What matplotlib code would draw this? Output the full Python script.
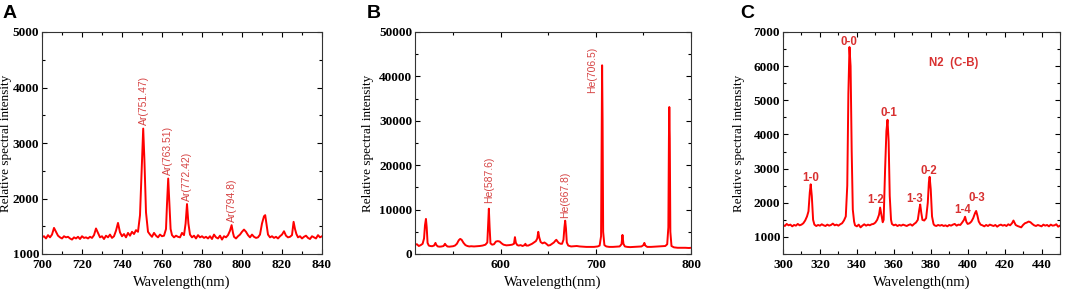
import matplotlib
matplotlib.use("Agg")
import matplotlib.pyplot as plt
from matplotlib.ticker import MultipleLocator

# ---- panel A: Ar lines (wavelength nm, intensity)
wl_a = [700, 701, 702, 703, 704, 705, 706, 707, 708, 709, 710, 711, 712, 713, 714, 715, 716, 717, 718, 719,
        720, 721, 722, 723, 724, 725, 726, 727, 728, 729, 730, 731, 732, 733, 734, 735, 736, 737, 738, 739,
        740, 741, 742, 743, 744, 745, 746, 747, 748, 749, 750, 750.6, 751.2, 752, 753, 754, 755, 756, 757,
        758, 759, 760, 761, 762, 762.5, 763.1, 763.7, 764.3, 765, 766, 767, 768, 769, 770, 771, 771.8,
        772.5, 773.2, 774, 775, 776, 777, 778, 779, 780, 781, 782, 783, 784, 785, 786, 787, 788, 789, 790,
        791, 792, 793, 794, 794.8, 795.5, 796, 797, 798, 799, 800, 801, 802, 803, 804, 805, 806, 807, 808,
        809, 810, 811, 811.6, 812.3, 813, 814, 815, 816, 817, 818, 819, 820, 821, 822, 823, 824, 825, 825.8,
        826.5, 827.2, 828, 829, 830, 831, 832, 833, 834, 835, 836, 837, 838, 839, 840]
in_a = [1300, 1320, 1280, 1340, 1300, 1350, 1470, 1400, 1330, 1300, 1280, 1320, 1300, 1310, 1280, 1260, 1300, 1280, 1310, 1270,
        1320, 1290, 1300, 1280, 1310, 1290, 1340, 1460, 1380, 1300, 1320, 1270, 1330, 1300, 1350, 1290, 1320, 1420, 1560, 1390,
        1320, 1360, 1300, 1380, 1330, 1400, 1360, 1430, 1400, 1700, 2700, 3260, 2700, 1750, 1400, 1350, 1310, 1380, 1330,
        1300, 1350, 1320, 1330, 1450, 1900, 2360, 1900, 1450, 1340, 1300, 1330, 1310, 1300, 1380, 1340, 1550,
        1900, 1550, 1350, 1300, 1330, 1280, 1340, 1300, 1320, 1290, 1310, 1280, 1320, 1270, 1350, 1300, 1280, 1330, 1260,
        1320, 1300, 1340, 1420, 1520, 1380, 1310, 1280, 1320, 1350, 1400, 1440, 1400, 1340, 1300, 1350, 1310, 1290, 1300,
        1350, 1550, 1680, 1700, 1520, 1350, 1300, 1320, 1290, 1310, 1280, 1320, 1350, 1410, 1330, 1300, 1310, 1340, 1580,
        1450, 1360, 1300, 1320, 1280, 1310, 1330, 1290, 1270, 1320, 1300, 1280, 1340, 1300, 1320]
lab_a = ["Ar(751.47)", "Ar(763.51)", "Ar(772.42)", "Ar(794.8)"]
lab_a_x = [750.8, 763.2, 772.6, 794.8]
lab_a_y = [3330, 2420, 1960, 1580]

# ---- panel B: He lines
wl_b = [510, 512, 514, 516, 518, 519.5, 520.5, 521.5, 522.3, 523.2, 524.5, 526, 528, 530, 531.5, 532.5, 534, 536,
        538, 540, 541.5, 542.5, 544, 546, 548, 550, 552, 554, 556, 557.5, 559, 561, 563, 565, 567, 569, 572,
        575, 578, 581, 584, 586, 586.8, 587.6, 588.4, 589.3, 591, 593, 595, 597, 599, 601, 603, 606, 609, 612,
        614, 615, 616, 617.5, 619, 621, 623, 625, 626, 627, 629, 631, 633, 635, 637, 638.5, 639.5, 640.5, 642,
        644, 646, 648, 650, 652, 654, 656, 657.5, 658.5, 659.5, 661, 663, 664.5, 666, 667, 667.8, 668.6, 669.5,
        671, 674, 677, 680, 683, 686, 690, 694, 698, 702, 704, 705.5, 706.2, 706.6, 707.1, 707.7, 709, 711,
        714, 718, 722, 725, 727, 728, 729, 730.5, 733, 736, 740, 744, 748, 750, 751, 752, 754, 758, 762, 766,
        770, 773, 775, 776.2, 776.8, 777.2, 777.7, 778.3, 779.5, 782, 786, 790, 794, 798, 800]
in_b = [2100, 2200, 1800, 2000, 2300, 3500, 6500, 7900, 6000, 2500, 1900, 1800, 1750, 1900, 2500, 2000, 1700, 1650,
        1700, 1800, 2300, 2000, 1700, 1650, 1700, 1750, 1900, 2300, 3100, 3400, 3200, 2500, 2000, 1800, 1700, 1750, 1700,
        1750, 1800, 1900, 2100, 2600, 6500, 10200, 6000, 2400, 2100, 2200, 2800, 2900, 2800, 2400, 2100, 1950, 2000, 2100,
        2300, 3800, 2500, 2000, 1900, 2000, 1800, 2000, 2300, 1900, 1900, 2100, 2300, 2600, 2900, 3500, 5000, 3800, 2700,
        2400, 2600, 2300, 1900, 2000, 2300, 2600, 3000, 3200, 2900, 2500, 2300, 2300, 3200, 6000, 7500, 5800, 2600,
        1900, 1700, 1750, 1800, 1700, 1650, 1600, 1600, 1600, 1700, 1900, 4000, 30000, 42500, 30000, 5000, 2000, 1700,
        1600, 1600, 1650, 1700, 2200, 4300, 2300, 1700, 1600, 1550, 1600, 1650, 1700, 2000, 2500, 1900, 1600, 1600, 1650, 1700,
        1750, 1800, 2200, 6000, 26000, 33100, 26000, 5000, 1800, 1500, 1400, 1400, 1400, 1350, 1400]
lab_b = ["He(587.6)", "He(667.8)", "He(706.5)"]
lab_b_x = [587.6, 668.0, 696.0]
lab_b_y = [11500, 8100, 36300]

# ---- panel C: N2 second positive system
wl_c = [300, 301, 302, 303, 304, 305, 306, 307, 308, 309, 310, 311, 312, 313, 313.8, 314.5, 315, 315.6, 316.3,
        317, 318, 319, 320, 321, 322, 323, 324, 325, 326, 327, 328, 329, 330, 331, 332, 333, 334, 334.8, 335.4,
        336, 336.6, 337.2, 337.8, 338.5, 339, 340, 341, 342, 343, 344, 345, 346, 347, 348, 349, 350, 351, 352,
        352.6, 353.3, 354, 354.5, 355.3, 356, 356.6, 357.2, 357.8, 358.5, 359, 360, 361, 362, 363, 364, 365, 366,
        367, 368, 369, 370, 371, 372, 373, 373.8, 374.3, 374.9, 375.5, 376.5, 377.5, 378.4, 379, 379.4, 380,
        380.7, 381.5, 382, 383, 384, 385, 386, 387, 388, 389, 390, 391, 392, 393, 394, 395, 396, 397, 398, 398.6,
        399.3, 400, 401, 402, 403, 404, 404.6, 405.3, 406, 407, 408, 409, 410, 411, 412, 413, 414, 415, 416, 417,
        418, 419, 420, 421, 422, 423, 424, 424.8, 425.5, 426, 427, 428, 429, 430, 431, 432, 433, 434, 435, 436,
        437, 438, 439, 440, 441, 442, 443, 444, 445, 446, 447, 448, 449, 450]
in_c = [1350, 1320, 1380, 1340, 1360, 1310, 1350, 1330, 1380, 1340, 1360, 1400, 1480, 1600, 1750, 2300, 2540, 2200, 1500,
        1360, 1320, 1350, 1330, 1370, 1340, 1320, 1360, 1330, 1350, 1390, 1340, 1360, 1330, 1370, 1400, 1480, 1600, 2500, 5200,
        6560, 6000, 3500, 1800, 1450, 1340, 1310, 1360, 1280, 1330, 1370, 1330, 1360, 1340, 1370, 1380, 1420, 1500, 1650,
        1860, 1650, 1430, 1500, 3000, 4100, 4430, 3800, 2200, 1500, 1380, 1340, 1360, 1320, 1350, 1330, 1360, 1340,
        1320, 1350, 1370, 1330, 1380, 1420, 1500, 1800, 1950, 1700, 1500, 1480, 1550, 2000, 2600, 2760, 2400,
        1600, 1380, 1340, 1320, 1350, 1330, 1350, 1320, 1340, 1310, 1350, 1330, 1360, 1380, 1330, 1360, 1350, 1420, 1500, 1590,
        1440, 1380, 1400, 1450, 1550, 1700, 1760, 1620, 1450, 1360, 1340, 1310, 1350, 1320, 1360, 1340, 1320, 1350, 1300, 1340,
        1360, 1330, 1350, 1320, 1370, 1340, 1400, 1480, 1400, 1350, 1320, 1300, 1280, 1350, 1400, 1420, 1450, 1430, 1380, 1340,
        1320, 1350, 1330, 1310, 1360, 1330, 1350, 1310, 1360, 1330, 1340, 1370, 1300, 1330]
lab_c = ["1-0", "0-0", "0-1", "1-2", "1-3", "0-2", "1-4", "0-3", "N2  (C-B)"]
lab_c_x = [314.8, 335.9, 357.2, 350.3, 371.1, 379.2, 397.1, 404.9, 392.2]
lab_c_y = [2720, 6715, 4615, 2090, 2120, 2930, 1780, 2150, 6080]

serif = "Liberation Serif"
sans = "Liberation Sans"
line_col = "#ff0000"
lab_col = "#d64545"

fig = plt.figure(figsize=(10.65, 2.95), dpi=100)
W, H = 1065, 295


def make_ax(left, right, top=32, bottom=254):
    return fig.add_axes([left / W, (H - bottom) / H, (right - left) / W, (bottom - top) / H])


def style(ax, xlim, ylim, xmaj, xmin, ymaj, ymin, ylab_x):
    ax.set_xlim(*xlim)
    ax.set_ylim(*ylim)
    ax.xaxis.set_major_locator(MultipleLocator(xmaj))
    ax.xaxis.set_minor_locator(MultipleLocator(xmin))
    ax.yaxis.set_major_locator(MultipleLocator(ymaj))
    ax.yaxis.set_minor_locator(MultipleLocator(ymin))
    ax.tick_params(which="both", direction="in", top=True, right=True, width=0.8)
    ax.tick_params(which="major", length=3.5, labelsize=9.5, pad=2)
    ax.tick_params(axis="x", which="major", pad=3.5)
    ax.tick_params(which="minor", length=2)
    for lbl in ax.get_xticklabels() + ax.get_yticklabels():
        lbl.set_fontfamily(serif)
        lbl.set_fontweight("bold")
    for sp in ax.spines.values():
        sp.set_linewidth(0.8)
        sp.set_color("#333333")
    ax.set_xlabel("Wavelength(nm)", fontfamily=serif, fontsize=10.5, labelpad=3.5)
    ax.set_ylabel("Relative spectral intensity", fontfamily=serif, fontsize=9.5)
    ax.yaxis.set_label_coords(ylab_x, 0.5)


# A
axa = make_ax(42, 322)
axa.plot(wl_a, in_a, color=line_col, lw=1.4)
style(axa, (700, 840), (1000, 5000), 20, 10, 1000, 500, -0.108)
for t, x, y in zip(lab_a, lab_a_x, lab_a_y):
    axa.text(x, y, t, rotation=90, ha="center", va="bottom", color=lab_col, fontsize=7.5, fontfamily=sans)

# B
axb = make_ax(415, 691)
axb.plot(wl_b, in_b, color=line_col, lw=1.4)
style(axb, (510, 800), (0, 50000), 100, 50, 10000, 5000, -0.15)
for t, x, y in zip(lab_b, lab_b_x, lab_b_y):
    axb.text(x, y, t, rotation=90, ha="center", va="bottom", color=lab_col, fontsize=7.5, fontfamily=sans)

# C
axc = make_ax(783, 1060)
axc.plot(wl_c, in_c, color=line_col, lw=1.4)
style(axc, (300, 450), (500, 7000), 20, 10, 1000, 500, -0.137)
for t, x, y in zip(lab_c, lab_c_x, lab_c_y):
    axc.text(x, y, t, ha="center", va="center", color="#d83030", fontsize=8.3, fontfamily=sans, fontweight="bold")

for letter, x in zip("ABC", [3, 367, 740]):
    fig.text(x / W, 1 - 5 / H, letter, ha="left", va="top", fontsize=14, fontweight="bold", fontfamily=sans)

fig.savefig("out.png", dpi=100)
